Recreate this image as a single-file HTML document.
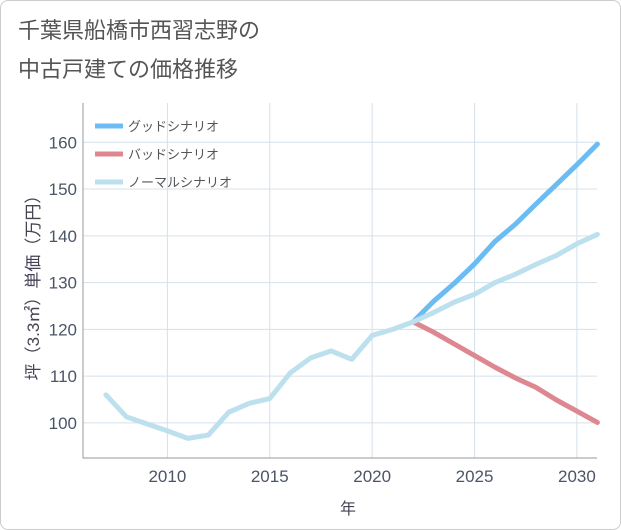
<!DOCTYPE html>
<html><head><meta charset="utf-8"><style>
body{margin:0;background:#fff;}
#card{position:absolute;left:0;top:0;width:619px;height:528px;border:1px solid #ccc;border-radius:8px;background:#fff;}
.t{font-family:"Liberation Sans","Noto Sans CJK JP",sans-serif;}
</style></head><body>
<div id="card"></div>
<svg id="c" width="621" height="530" style="position:absolute;left:0;top:0">
<text class="t" x="18" y="38" font-size="22" fill="#555">千葉県船橋市西習志野の</text>
<text class="t" x="18" y="77" font-size="22" fill="#555">中古戸建ての価格推移</text>
<g id="grid"></g><g id="axes"></g><g id="series"></g><g id="legend"></g>
</svg>
<script>
const years=[2007,2008,2009,2010,2011,2012,2013,2014,2015,2016,2017,2018,2019,2020,2021,2022,2023,2024,2025,2026,2027,2028,2029,2030,2031];
const normal=[106,101.3,99.8,98.3,96.7,97.4,102.3,104.2,105.2,110.7,113.9,115.4,113.6,118.7,120,121.6,123.6,125.8,127.5,130,131.8,133.9,135.8,138.3,140.3];
const scenYears=[2022,2023,2024,2025,2026,2027,2028,2029,2030,2031];
const good=[121.6,126,129.8,134,138.8,142.5,146.8,151,155.2,159.6];
const bad=[121.6,119.4,116.9,114.4,111.9,109.6,107.6,104.9,102.5,100.1];
const xTicks=[2010,2015,2020,2025,2030];
const yTicks=[100,110,120,130,140,150,160];
const L=83,R=597,T=103,B=458,x0=2005.88,x1=2030.98,y0=92.5,y1=168.4;
const X=v=>L+(v-x0)/(x1-x0)*(R-L), Y=v=>B-(v-y0)/(y1-y0)*(B-T);
const NS='http://www.w3.org/2000/svg';
function mk(p,tag,at,txt){const e=document.createElementNS(NS,tag);for(const k in at)e.setAttribute(k,at[k]);if(txt!=null)e.textContent=txt;document.getElementById(p).appendChild(e);return e;}
xTicks.forEach(v=>{const g=mk('grid','line',{x1:X(v),x2:X(v),y1:T,y2:B,stroke:'#d5e0ea','stroke-width':1});

const t=mk('axes','text',{x:X(v),y:B+24,'text-anchor':'middle','font-size':17,fill:'#4a5568',class:'t'},v);
});
yTicks.forEach(v=>{const g=mk('grid','line',{x1:L,x2:R,y1:Y(v),y2:Y(v),stroke:'#d5e0ea','stroke-width':1});

const t=mk('axes','text',{x:L-6,y:Y(v)+6,'text-anchor':'end','font-size':17,fill:'#4a5568',class:'t'},v);
});
let ax=mk('axes','path',{d:`M${L},${T}V${B}H${R}`,fill:'none',stroke:'#999','stroke-width':1});

let xt=mk('axes','text',{x:(L+R)/2+8,y:514,'text-anchor':'middle','font-size':16,fill:'#445',class:'t'},'年');

let yt=mk('axes','text',{x:0,y:0,'text-anchor':'middle','font-size':17,fill:'#445',class:'t',transform:`translate(39,${(T+B)/2+3}) rotate(-90)`},'坪（3.3㎡）単価（万円）');

function line(xs,ys,col,name){const d=xs.map((v,i)=>(i?'L':'M')+X(v)+','+Y(ys[i])).join('');
const p=mk('series','path',{d,fill:'none',stroke:col,'stroke-width':5,'stroke-linejoin':'round','stroke-linecap':'round'});
}
line(scenYears,bad,'#dd8890','bad-scenario-line');
line(scenYears,good,'#6bbcf2','good-scenario-line');
line(years,normal,'#bde0ef','normal-scenario-line');
[['グッドシナリオ','#6bbcf2'],['バッドシナリオ','#dd8890'],['ノーマルシナリオ','#bde0ef']].forEach((e,i)=>{const y=126+i*28;
const s=mk('legend','line',{x1:95,x2:123,y1:y,y2:y,stroke:e[1],'stroke-width':5});

const t=mk('legend','text',{x:128,y:y+5,'font-size':13,fill:'#555',class:'t'},e[0]);
});
</script>
</body></html>
